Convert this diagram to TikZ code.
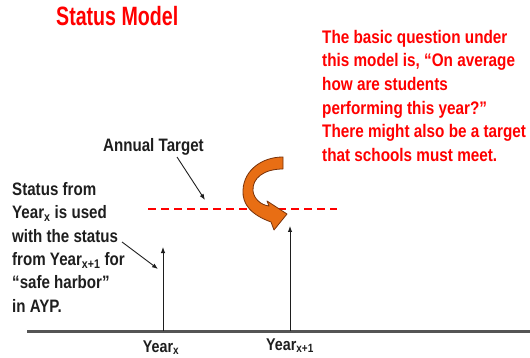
\documentclass[tikz,border=0pt]{standalone}
\usepackage{fontspec}
\setmainfont[FakeStretch=0.84]{Liberation Sans}
\newfontfamily\titlefont[FakeStretch=0.74]{Liberation Sans}
\usepackage{xcolor}
\usetikzlibrary{arrows.meta, positioning}
\definecolor{myred}{RGB}{255, 0, 0}
\definecolor{mytext}{RGB}{30, 30, 30}
\definecolor{myaxis}{RGB}{85, 85, 85}
\definecolor{myorange}{RGB}{232, 110, 20}
\definecolor{mybrown}{RGB}{120, 50, 10}

\begin{document}
\begin{tikzpicture}[x=1pt, y=-1pt, >={Latex[length=6pt, width=4.5pt]},
    label/.style={inner sep=0pt, text=mytext, font=\bfseries\fontsize{18}{23.4}\selectfont},
    pointer/.style={->, thin, mytext, line width=0.9pt}]
    \useasboundingbox (0, 0) rectangle (530, 358);

    % Titel und Frage
    \node[inner sep=0pt, anchor=base west, text=myred, font=\titlefont\bfseries\fontsize{26.5}{30}\selectfont] (title) at (56, 26) {Status Model};
    \node[inner sep=0pt, anchor=north west, align=left, text=myred, font=\bfseries\fontsize{18.2}{23.6}\selectfont] (question) at (322, 30)
        {The basic question under\\this model is, ``On average\\how are students\\performing this year?''\\There might also be a target\\that schools must meet.};

    % Zeitachse
    \coordinate (axisL) at (27, 331);
    \coordinate (axisR) at (530, 331);
    \draw[line width=3pt, myaxis] (axisL) -- (axisR);

    \coordinate (yx) at (163, 331);
    \coordinate (yxtop) at (163, 247);
    \coordinate (yy) at (290, 331);
    \coordinate (yytop) at (290, 226);
    \draw[pointer] (yx) -- (yxtop);
    \draw[pointer] (yy) -- (yytop);
    \node[label, anchor=base, font=\bfseries\fontsize{17}{20}\selectfont] (yearx) at (161, 352) {Year\textsubscript{x}};
    \node[label, anchor=base, font=\bfseries\fontsize{17}{20}\selectfont] (yeary) at (290, 350) {Year\textsubscript{x+1}};

    % Jahresziel
    \coordinate (tgtL) at (148, 209);
    \coordinate (tgtR) at (337, 209);
    \draw[myred, line width=2.5pt, dash pattern=on 8pt off 5pt] (tgtL) -- (tgtR);
    \node[label, anchor=base west] (target) at (103, 152) {Annual Target};
    \coordinate (tgtfrom) at (177, 157);
    \coordinate (tgtto) at (205, 200);
    \draw[pointer] (tgtfrom) -- (tgtto);

    % Safe Harbor
    \node[label, anchor=north west, align=left] (status) at (12, 182)
        {Status from\\Year\textsubscript{x} is used\\with the status\\from Year\textsubscript{x+1} for\\``safe harbor''\\in AYP.};
    \coordinate (shfrom) at (122, 242);
    \coordinate (shto) at (158, 269);
    \draw[pointer] (shfrom) -- (shto);

    % gebogener Pfeil
    \draw[fill=myorange, draw=mybrown, line width=0.8pt, line join=round]
        (283, 157) -- (283, 169)
        .. controls (264, 169) and (252, 178) .. (253, 191)
        .. controls (254, 199) and (261, 205) .. (269, 206)
        -- (267, 201) -- (287, 214) -- (274, 230) -- (271, 222)
        .. controls (252, 215) and (242, 205) .. (243, 190)
        .. controls (244, 170) and (262, 157) .. cycle;
\end{tikzpicture}
\end{document}
